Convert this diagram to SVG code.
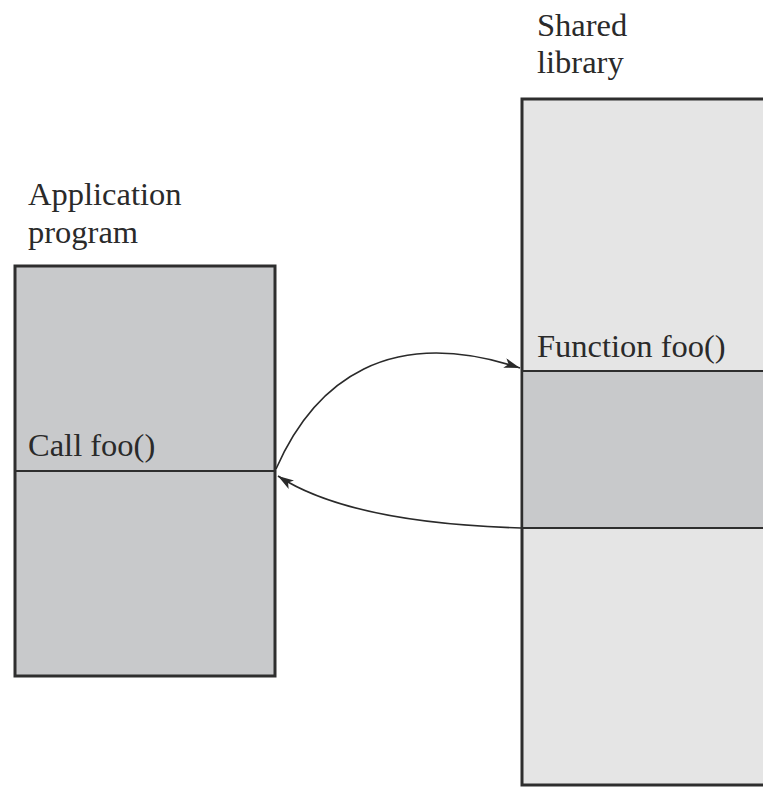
<svg xmlns="http://www.w3.org/2000/svg" width="763" height="787" viewBox="0 0 763 787">
<defs>
<style>
.lbl{font-family:"Liberation Serif","Times New Roman",serif;font-size:32.5px;fill:#2a2a2a}
.box{stroke:#2e2e2e;stroke-width:3}
.div{stroke:#2e2e2e;stroke-width:2;fill:none}
.conn{fill:none;stroke:#2a2a2a;stroke-width:1.6}
</style>
<marker id="ah" viewBox="0 0 16 10" refX="16" refY="5" markerWidth="16" markerHeight="10" markerUnits="userSpaceOnUse" orient="auto">
<path d="M0,0 L16,5 L0,10 L4,5 Z" fill="#2a2a2a"/>
</marker>
</defs>
<rect width="763" height="787" fill="#ffffff"/>
<g id="shared-library">
<rect class="box" x="522" y="99" width="260" height="686" fill="#e5e5e5"/>
<rect x="523.5" y="371" width="245" height="157" fill="#c8c9cb"/>
<line class="div" x1="522" y1="371" x2="763" y2="371"/>
<line class="div" x1="522" y1="528" x2="763" y2="528"/>
<text class="lbl" x="537" y="36">Shared</text>
<text class="lbl" x="537" y="73">library</text>
<text class="lbl" x="537" y="357">Function foo()</text>
</g>
<g id="application-program">
<rect class="box" x="15" y="266" width="260" height="410" fill="#c8c9cb"/>
<line class="div" x1="15" y1="471" x2="275" y2="471"/>
<text class="lbl" x="28" y="205">Application</text>
<text class="lbl" x="28" y="243">program</text>
<text class="lbl" x="28" y="456">Call foo()</text>
</g>
<g id="connectors">
<path class="conn" d="M276 469 C315 380, 390 325, 520 368" marker-end="url(#ah)"/>
<path class="conn" d="M521 528 C420 525, 330 510, 278 476" marker-end="url(#ah)"/>
</g>
</svg>
